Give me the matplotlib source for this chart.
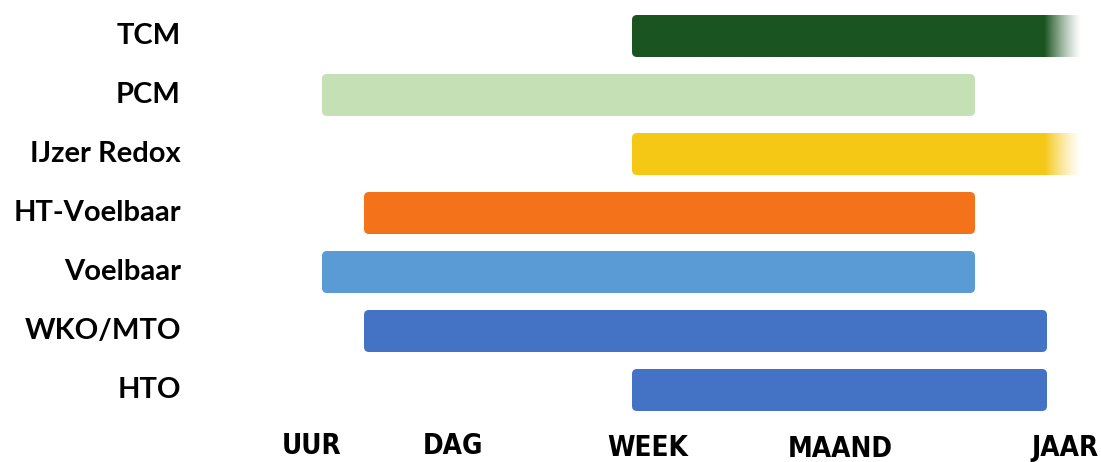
import numpy as np
import matplotlib.pyplot as plt
from matplotlib.colors import to_rgb
from matplotlib.patches import FancyBboxPatch

# technieken (van boven naar onder) en hun opslagduur-bereik
techniek = ['TCM', 'PCM', 'IJzer Redox', 'HT-Voelbaar', 'Voelbaar', 'WKO/MTO', 'HTO']
start = [632, 322, 632, 364, 322, 364, 632]
eind = [1082, 975, 1082, 975, 975, 1047, 1047]
vervaag = [True, False, True, False, False, False, False]   # open einde naar rechts
kleuren = ['#1a5420', '#c5e0b4', '#f5c816', '#f4731a', '#5b9bd5', '#4472c4', '#4472c4']

# tijdschaal
schaal = ['UUR', 'DAG', 'WEEK', 'MAAND', 'JAAR']
schaal_pos = [312, 453, 648, 840, 1065]
schaal_y = [446, 446, 448, 449, 448]

fig = plt.figure(figsize=(11.01, 4.62), dpi=100)
ax = fig.add_axes((0, 0, 1, 1))
ax.set_xlim(0, 1101)
ax.set_ylim(462, 0)
ax.axis('off')

rij0, stap, hoogte = 36, 59, 42
for i, (naam, x0, x1, fade, kl) in enumerate(zip(techniek, start, eind, vervaag, kleuren)):
    yc = rij0 + i * stap
    box = FancyBboxPatch((x0, yc - hoogte / 2), x1 - x0, hoogte,
                         boxstyle='round,pad=0,rounding_size=5',
                         fc=kl, ec='none')
    if fade:
        # kleurverloop naar transparant aan de rechterkant
        box.set_facecolor('none')
        ax.add_patch(box)
        n = 400
        xs = np.linspace(x0, x1, n)
        alpha = np.clip((x1 - xs) / 37.0, 0, 1) ** 1.3
        rgba = np.zeros((1, n, 4))
        rgba[..., :3] = to_rgb(kl)
        rgba[0, :, 3] = alpha
        im = ax.imshow(rgba, extent=(x0, x1, yc + hoogte / 2, yc - hoogte / 2),
                       aspect='auto', interpolation='bilinear')
        im.set_clip_path(box)
    else:
        ax.add_patch(box)
    ax.text(181, yc, naam, ha='right', va='center', fontsize=21,
            fontweight='bold', family=['Lato', 'DejaVu Sans'], color='black')

for lab, xp, yp in zip(schaal, schaal_pos, schaal_y):
    ax.text(xp, yp, lab, ha='center', va='center', fontsize=20,
            fontweight='bold', fontstretch='condensed', family='DejaVu Sans',
            color='black')

fig.savefig('out.png', dpi=100)
